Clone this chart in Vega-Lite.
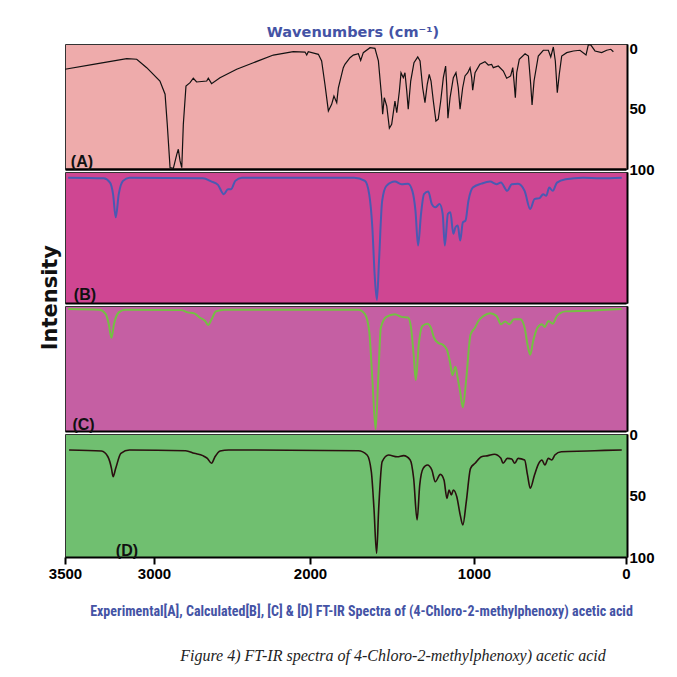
{
  "$schema": "https://vega.github.io/schema/vega-lite/v6.json",
  "background": "white",
  "padding": {"left": 39, "top": 24, "right": 5, "bottom": 5},
  "spacing": 3,
  "bounds": "flush",
  "title": {"text": "Intensity", "orient": "left", "anchor": "middle", "font": "DejaVu Sans", "fontSize": 21, "fontWeight": "bold", "color": "#111", "offset": -13, "dx": 47},
  "config": {
    "view": {"stroke": "#333", "strokeWidth": 1},
    "axis": {"grid": false, "labelFont": "Liberation Sans", "labelFontWeight": "bold", "labelColor": "#000", "domainColor": "#000", "tickColor": "#000"},
    "text": {"font": "Liberation Sans"}
  },
  "datasets": {
    "A": [
      {"w":3500,"v":17.0},{"w":3341,"v":12.9},{"w":3153,"v":8.2},{"w":3097,"v":8.7},{"w":3041,"v":15.7},{"w":2962,"v":26.8},{"w":2929,"v":37.8},{"w":2915,"v":62.8},{"w":2897,"v":98.9},{"w":2876,"v":99.4},{"w":2854,"v":87.8},{"w":2844,"v":83.6},{"w":2833,"v":93.3},{"w":2822,"v":98.9},{"w":2812,"v":62.8},{"w":2795,"v":30.9},{"w":2769,"v":28.2},{"w":2748,"v":24.5},{"w":2727,"v":27.6},{"w":2662,"v":26.8},{"w":2652,"v":24.5},{"w":2631,"v":29.0},{"w":2577,"v":24.0},{"w":2470,"v":17.0},{"w":2363,"v":11.6},{"w":2235,"v":5.2},{"w":2107,"v":2.4},{"w":2032,"v":2.7},{"w":2021,"v":5.2},{"w":2011,"v":2.4},{"w":1949,"v":4.6},{"w":1929,"v":10.1},{"w":1909,"v":29.5},{"w":1888,"v":51.7},{"w":1868,"v":46.2},{"w":1854,"v":39.3},{"w":1837,"v":44.8},{"w":1827,"v":32.4},{"w":1797,"v":15.7},{"w":1787,"v":12.9},{"w":1756,"v":7.4},{"w":1736,"v":5.2},{"w":1705,"v":4.1},{"w":1691,"v":9.6},{"w":1675,"v":3.2},{"w":1634,"v":-0.9},{"w":1604,"v":-0.4},{"w":1583,"v":10.1},{"w":1563,"v":40.7},{"w":1557,"v":54.5},{"w":1547,"v":40.7},{"w":1532,"v":47.6},{"w":1516,"v":66.1},{"w":1502,"v":62.8},{"w":1482,"v":43.4},{"w":1471,"v":53.2},{"w":1455,"v":35.1},{"w":1445,"v":19.9},{"w":1431,"v":24.0},{"w":1421,"v":19.9},{"w":1410,"v":35.1},{"w":1401,"v":50.3},{"w":1386,"v":26.8},{"w":1366,"v":11.6},{"w":1343,"v":6.8},{"w":1329,"v":10.1},{"w":1313,"v":32.4},{"w":1299,"v":44.8},{"w":1285,"v":29.5},{"w":1273,"v":21.2},{"w":1262,"v":26.8},{"w":1248,"v":43.4},{"w":1232,"v":60.1},{"w":1218,"v":58.6},{"w":1203,"v":43.4},{"w":1187,"v":24.0},{"w":1173,"v":14.3},{"w":1167,"v":29.5},{"w":1159,"v":57.8},{"w":1146,"v":40.7},{"w":1126,"v":24.0},{"w":1110,"v":19.9},{"w":1096,"v":32.4},{"w":1085,"v":50.3},{"w":1069,"v":32.4},{"w":1055,"v":22.6},{"w":1038,"v":19.9},{"w":1024,"v":15.7},{"w":1014,"v":24.0},{"w":1008,"v":34.5},{"w":993,"v":19.9},{"w":961,"v":12.9},{"w":928,"v":10.7},{"w":906,"v":13.5},{"w":884,"v":12.9},{"w":873,"v":15.7},{"w":840,"v":14.3},{"w":807,"v":18.5},{"w":785,"v":24.5},{"w":759,"v":22.6},{"w":745,"v":15.7},{"w":737,"v":26.8},{"w":728,"v":40.7},{"w":719,"v":19.9},{"w":702,"v":8.7},{"w":664,"v":4.1},{"w":642,"v":6.0},{"w":627,"v":29.5},{"w":618,"v":46.8},{"w":605,"v":26.8},{"w":577,"v":6.0},{"w":544,"v":1.2},{"w":511,"v":1.2},{"w":495,"v":6.8},{"w":478,"v":-1.5},{"w":465,"v":10.1},{"w":452,"v":36.5},{"w":439,"v":21.2},{"w":423,"v":6.0},{"w":390,"v":3.2},{"w":346,"v":1.8},{"w":303,"v":1.2},{"w":263,"v":5.2},{"w":248,"v":-3.2},{"w":232,"v":-3.2},{"w":204,"v":1.8},{"w":160,"v":3.2},{"w":127,"v":1.2},{"w":100,"v":0.4},{"w":83,"v":2.4}
    ],
    "B": [
      {"w":3482,"v":4.3},{"w":3283,"v":4.8},{"w":3247,"v":8.1},{"w":3230,"v":16.9},{"w":3215,"v":34.6},{"w":3198,"v":16.9},{"w":3174,"v":6.8},{"w":3138,"v":4.3},{"w":2687,"v":4.8},{"w":2631,"v":7.3},{"w":2590,"v":9.8},{"w":2553,"v":16.9},{"w":2526,"v":13.1},{"w":2506,"v":13.1},{"w":2479,"v":6.8},{"w":2437,"v":4.3},{"w":1731,"v":4.3},{"w":1665,"v":6.8},{"w":1639,"v":16.9},{"w":1620,"v":42.2},{"w":1605,"v":80.1},{"w":1592,"v":97.7},{"w":1579,"v":67.4},{"w":1560,"v":22.0},{"w":1534,"v":10.6},{"w":1482,"v":7.3},{"w":1442,"v":9.3},{"w":1402,"v":8.9},{"w":1376,"v":14.4},{"w":1357,"v":29.5},{"w":1341,"v":56.1},{"w":1323,"v":32.0},{"w":1305,"v":16.9},{"w":1279,"v":14.9},{"w":1257,"v":24.5},{"w":1236,"v":27.0},{"w":1210,"v":24.5},{"w":1191,"v":32.0},{"w":1178,"v":56.1},{"w":1159,"v":32.0},{"w":1144,"v":30.8},{"w":1126,"v":47.2},{"w":1113,"v":42.2},{"w":1099,"v":40.9},{"w":1084,"v":52.3},{"w":1068,"v":38.4},{"w":1052,"v":37.1},{"w":1034,"v":22.0},{"w":1007,"v":11.9},{"w":951,"v":8.9},{"w":894,"v":7.3},{"w":852,"v":9.3},{"w":823,"v":8.1},{"w":781,"v":14.4},{"w":752,"v":9.3},{"w":710,"v":8.9},{"w":667,"v":14.4},{"w":630,"v":28.3},{"w":602,"v":20.7},{"w":568,"v":19.9},{"w":545,"v":16.9},{"w":525,"v":18.2},{"w":505,"v":11.9},{"w":482,"v":14.4},{"w":454,"v":8.1},{"w":397,"v":5.5},{"w":284,"v":4.3},{"w":170,"v":4.8},{"w":28,"v":4.3}
    ],
    "C": [
      {"w":3482,"v":2.4},{"w":3307,"v":3.0},{"w":3271,"v":6.5},{"w":3254,"v":14.6},{"w":3239,"v":25.4},{"w":3225,"v":14.6},{"w":3198,"v":5.1},{"w":3162,"v":3.0},{"w":2825,"v":3.3},{"w":2783,"v":5.1},{"w":2742,"v":5.9},{"w":2708,"v":9.2},{"w":2672,"v":12.0},{"w":2653,"v":15.2},{"w":2631,"v":10.6},{"w":2603,"v":4.3},{"w":2548,"v":3.0},{"w":1705,"v":3.0},{"w":1665,"v":6.5},{"w":1639,"v":20.1},{"w":1620,"v":58.0},{"w":1600,"v":98.6},{"w":1584,"v":58.0},{"w":1568,"v":17.3},{"w":1534,"v":8.7},{"w":1482,"v":6.5},{"w":1442,"v":8.7},{"w":1402,"v":9.2},{"w":1384,"v":17.3},{"w":1368,"v":39.0},{"w":1355,"v":59.3},{"w":1337,"v":30.9},{"w":1315,"v":16.0},{"w":1284,"v":14.1},{"w":1263,"v":17.3},{"w":1244,"v":25.4},{"w":1218,"v":29.5},{"w":1191,"v":30.9},{"w":1165,"v":35.0},{"w":1147,"v":44.5},{"w":1131,"v":55.3},{"w":1113,"v":48.5},{"w":1099,"v":58.0},{"w":1084,"v":68.9},{"w":1068,"v":81.1},{"w":1047,"v":58.0},{"w":1021,"v":22.8},{"w":993,"v":17.3},{"w":971,"v":12.0},{"w":937,"v":7.9},{"w":894,"v":5.7},{"w":852,"v":7.9},{"w":823,"v":14.6},{"w":795,"v":12.4},{"w":767,"v":14.6},{"w":738,"v":10.6},{"w":695,"v":10.6},{"w":667,"v":17.3},{"w":648,"v":30.9},{"w":630,"v":39.0},{"w":611,"v":28.2},{"w":582,"v":17.3},{"w":553,"v":14.6},{"w":534,"v":16.8},{"w":511,"v":12.0},{"w":482,"v":14.1},{"w":454,"v":7.9},{"w":397,"v":4.3},{"w":255,"v":3.8},{"w":28,"v":2.4}
    ],
    "D": [
      {"w":3477,"v":13.0},{"w":3295,"v":13.8},{"w":3259,"v":18.5},{"w":3239,"v":27.9},{"w":3230,"v":34.7},{"w":3215,"v":27.9},{"w":3186,"v":15.7},{"w":3138,"v":13.0},{"w":2797,"v":13.6},{"w":2742,"v":15.7},{"w":2687,"v":17.6},{"w":2658,"v":19.8},{"w":2631,"v":23.8},{"w":2609,"v":18.5},{"w":2576,"v":13.8},{"w":2521,"v":13.0},{"w":1705,"v":13.6},{"w":1652,"v":17.1},{"w":1626,"v":30.7},{"w":1610,"v":60.4},{"w":1594,"v":97.0},{"w":1581,"v":60.4},{"w":1560,"v":22.5},{"w":1521,"v":17.1},{"w":1468,"v":18.5},{"w":1429,"v":17.6},{"w":1389,"v":21.1},{"w":1368,"v":36.0},{"w":1347,"v":69.9},{"w":1331,"v":41.5},{"w":1310,"v":27.9},{"w":1284,"v":25.2},{"w":1257,"v":29.3},{"w":1236,"v":38.8},{"w":1205,"v":32.8},{"w":1183,"v":37.4},{"w":1165,"v":52.3},{"w":1152,"v":45.5},{"w":1138,"v":49.6},{"w":1126,"v":45.5},{"w":1105,"v":51.0},{"w":1084,"v":65.9},{"w":1068,"v":74.0},{"w":1047,"v":55.0},{"w":1021,"v":27.9},{"w":993,"v":23.8},{"w":951,"v":18.5},{"w":908,"v":17.6},{"w":866,"v":16.5},{"w":823,"v":19.8},{"w":809,"v":23.8},{"w":781,"v":19.8},{"w":752,"v":20.3},{"w":732,"v":23.8},{"w":710,"v":19.8},{"w":667,"v":21.1},{"w":648,"v":33.3},{"w":630,"v":44.1},{"w":602,"v":33.3},{"w":574,"v":23.8},{"w":553,"v":21.1},{"w":534,"v":25.2},{"w":511,"v":19.8},{"w":488,"v":21.1},{"w":468,"v":17.1},{"w":426,"v":14.4},{"w":255,"v":13.8},{"w":141,"v":13.3},{"w":28,"v":13.0}
    ]
  },
  "vconcat": [
    {
      "width": 562, "height": 125,
      "view": {"fill": "#eeabab"},
      "title": {"text": "Wavenumbers (cm⁻¹)", "font": "DejaVu Sans", "fontSize": 14.5, "fontWeight": "bold", "color": "#4453a5", "anchor": "middle", "offset": 1, "dx": 7},
      "layer": [
        {"data": {"name": "A"}, "mark": {"type": "line", "color": "#111", "strokeWidth": 1.2},
         "encoding": {
           "x": {"field": "w", "type": "quantitative", "scale": {"domain": [3500,3000,2000,1000,0], "range": [0,89,245,409,561], "nice": false, "zero": false}, "axis": {"orient": "bottom", "labels": false, "ticks": false, "title": null, "domainWidth": 2.5}},
           "y": {"field": "v", "type": "quantitative", "scale": {"domain": [-4,100], "reverse": true, "nice": false, "zero": false}, "axis": {"orient": "right", "values": [0,50,100], "ticks": false, "title": null, "domainWidth": 2, "labelFontSize": 15, "labelPadding": 2}}
         }},
        {"data": {"values": [{"w": 3405, "v": 94, "t": "(A)"}]}, "mark": {"type": "text", "fontSize": 16, "fontWeight": "bold", "color": "#111"},
         "encoding": {"x": {"field": "w", "type": "quantitative"}, "y": {"field": "v", "type": "quantitative"}, "text": {"field": "t"}}}
      ]
    },
    {
      "width": 562, "height": 131,
      "view": {"fill": "#cf4692"},
      "layer": [
        {"data": {"name": "B"}, "mark": {"type": "line", "color": "#4a5ab2", "strokeWidth": 2, "interpolate": "monotone"},
         "encoding": {
           "x": {"field": "w", "type": "quantitative", "scale": {"domain": [3500,3000,2000,1000,0], "range": [0,89,245,409,561], "nice": false, "zero": false}, "axis": {"orient": "bottom", "labels": false, "ticks": false, "title": null, "domainWidth": 2}},
           "y": {"field": "v", "type": "quantitative", "scale": {"domain": [0,100], "reverse": true, "nice": false, "zero": false}, "axis": {"orient": "right", "labels": false, "ticks": false, "title": null, "domainWidth": 2}}
         }},
        {"data": {"values": [{"w": 3388, "v": 94, "t": "(B)"}]}, "mark": {"type": "text", "fontSize": 16, "fontWeight": "bold", "color": "#111"},
         "encoding": {"x": {"field": "w", "type": "quantitative"}, "y": {"field": "v", "type": "quantitative"}, "text": {"field": "t"}}}
      ]
    },
    {
      "width": 562, "height": 125,
      "view": {"fill": "#c55fa3"},
      "layer": [
        {"data": {"name": "C"}, "mark": {"type": "line", "color": "#74c043", "strokeWidth": 2, "interpolate": "monotone"},
         "encoding": {
           "x": {"field": "w", "type": "quantitative", "scale": {"domain": [3500,3000,2000,1000,0], "range": [0,89,245,409,561], "nice": false, "zero": false}, "axis": {"orient": "bottom", "labels": false, "ticks": false, "title": null, "domainWidth": 2}},
           "y": {"field": "v", "type": "quantitative", "scale": {"domain": [0,100], "reverse": true, "nice": false, "zero": false}, "axis": {"orient": "right", "labels": false, "ticks": false, "title": null, "domainWidth": 2}}
         }},
        {"data": {"values": [{"w": 3396, "v": 95, "t": "(C)"}]}, "mark": {"type": "text", "fontSize": 16, "fontWeight": "bold", "color": "#111"},
         "encoding": {"x": {"field": "w", "type": "quantitative"}, "y": {"field": "v", "type": "quantitative"}, "text": {"field": "t"}}}
      ]
    },
    {
      "width": 562, "height": 123,
      "view": {"fill": "#70bf70"},
      "title": {"text": "Figure 4) FT-IR spectra of 4-Chloro-2-methylphenoxy) acetic acid", "orient": "bottom", "font": "Liberation Serif", "fontStyle": "italic", "fontWeight": "normal", "fontSize": 16, "color": "#222", "anchor": "middle", "dx": 47, "offset": 30},
      "layer": [
        {"mark": {"type": "rule", "color": "#4e9a52", "strokeWidth": 2},
         "encoding": {"y": {"datum": 5, "type": "quantitative"}}},
        {"data": {"name": "D"}, "mark": {"type": "line", "color": "#2a0f0f", "strokeWidth": 1.6, "interpolate": "monotone"},
         "encoding": {
           "x": {"field": "w", "type": "quantitative", "scale": {"domain": [3500,3000,2000,1000,0], "range": [0,89,245,409,561], "nice": false, "zero": false}, "axis": {"orient": "bottom", "values": [3500,3000,2000,1000,0], "format": "d", "labelFontSize": 15, "labelFlush": false, "tickSize": 7, "tickWidth": 2, "domainWidth": 2, "labelPadding": 2, "title": "Experimental[A], Calculated[B], [C] & [D] FT-IR Spectra of (4-Chloro-2-methylphenoxy) acetic acid", "titleFont": "Roboto Condensed, Roboto", "titleFontSize": 14, "titleFontWeight": "bold", "titleColor": "#4453a5", "titlePadding": 23, "titleX": 296}},
           "y": {"field": "v", "type": "quantitative", "scale": {"domain": [0,100], "reverse": true, "nice": false, "zero": false}, "axis": {"orient": "right", "values": [0,50,100], "ticks": false, "title": null, "domainWidth": 2, "labelFontSize": 15, "labelPadding": 2}}
         }},
        {"data": {"values": [{"w": 3152, "v": 95, "t": "(D)"}]}, "mark": {"type": "text", "fontSize": 16, "fontWeight": "bold", "color": "#111"},
         "encoding": {"x": {"field": "w", "type": "quantitative"}, "y": {"field": "v", "type": "quantitative"}, "text": {"field": "t"}}}
      ]
    }
  ]
}
